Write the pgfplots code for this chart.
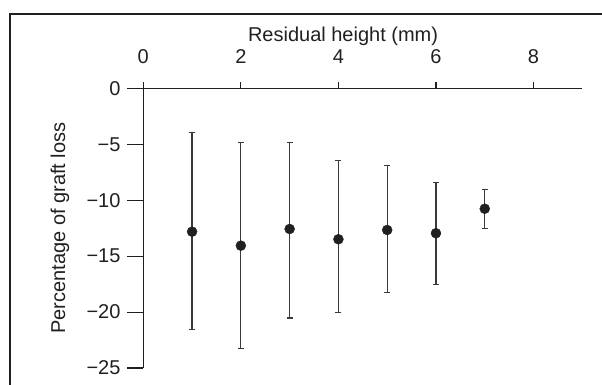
\documentclass[border=0pt]{standalone}
\usepackage{pgfplots}
\pgfplotsset{compat=1.18}
\usepackage{pgfplotstable}
\usepackage{fontspec}
\setmainfont{Liberation Sans}
\definecolor{ink}{HTML}{231F20}
\definecolor{bar}{HTML}{3A3A3A}
\pgfplotstableread{
x y ep em
1 -12.81 8.89 8.73
2 -14.06 9.24 9.18
3 -12.57 7.75 7.96
4 -13.49 7.03 6.56
5 -12.66 5.75 5.61
6 -12.95 4.55 4.60
7 -10.76 1.74 1.75
}\datatable
\begin{document}
\fontsize{20}{23}\selectfont
\begin{tikzpicture}[x=1pt,y=1pt]
\useasboundingbox (0,0) rectangle (602,385);
\draw[ink, line width=1.3pt] (10,-20) -- (10,371) -- (620,371);
\begin{axis}[
  at={(143.3pt,17pt)}, anchor=south west,
  scale only axis, width=439pt, height=279.6pt,
  xmin=0, xmax=9, ymin=-25, ymax=0,
  axis x line*=top, axis y line*=left,
  axis line style={ink, line width=1.1pt},
  xtick={0,2,4,6,8}, ytick={-25,-20,-15,-10,-5,0},
  yticklabels={−25,−20,−15,−10,−5,0},
  tick align=outside,
  major tick length=16pt,
  xtick style={ink, line width=1.1pt, /pgfplots/major tick length=6pt},
  ytick style={ink, line width=1.1pt},
  /pgf/number format/assume math mode=true,
  tick label style={font=\fontsize{20}{23}\selectfont, text=ink},
  xticklabel style={yshift=2pt},
  every axis x label/.style={at={(rel axis cs:0.455,1)}, anchor=base, yshift=47pt},
  every axis y label/.style={at={(rel axis cs:-0.19,0.5)}, rotate=90, anchor=center},
  label style={font=\fontsize{20}{23}\selectfont, text=ink},
  xlabel={Residual height (mm)},
  ylabel={Percentage of graft loss},
  clip=false,
]
\addplot[only marks, mark=*, mark size=5pt, mark options={fill=ink, draw=ink},
  error bars/.cd, y dir=both, y explicit,
  error bar style={bar, line width=1.2pt},
  error mark options={rotate=90, mark size=3pt, bar, line width=1.2pt}]
  table[x=x, y=y, y error plus=ep, y error minus=em] {\datatable};
\end{axis}
\end{tikzpicture}
\end{document}
